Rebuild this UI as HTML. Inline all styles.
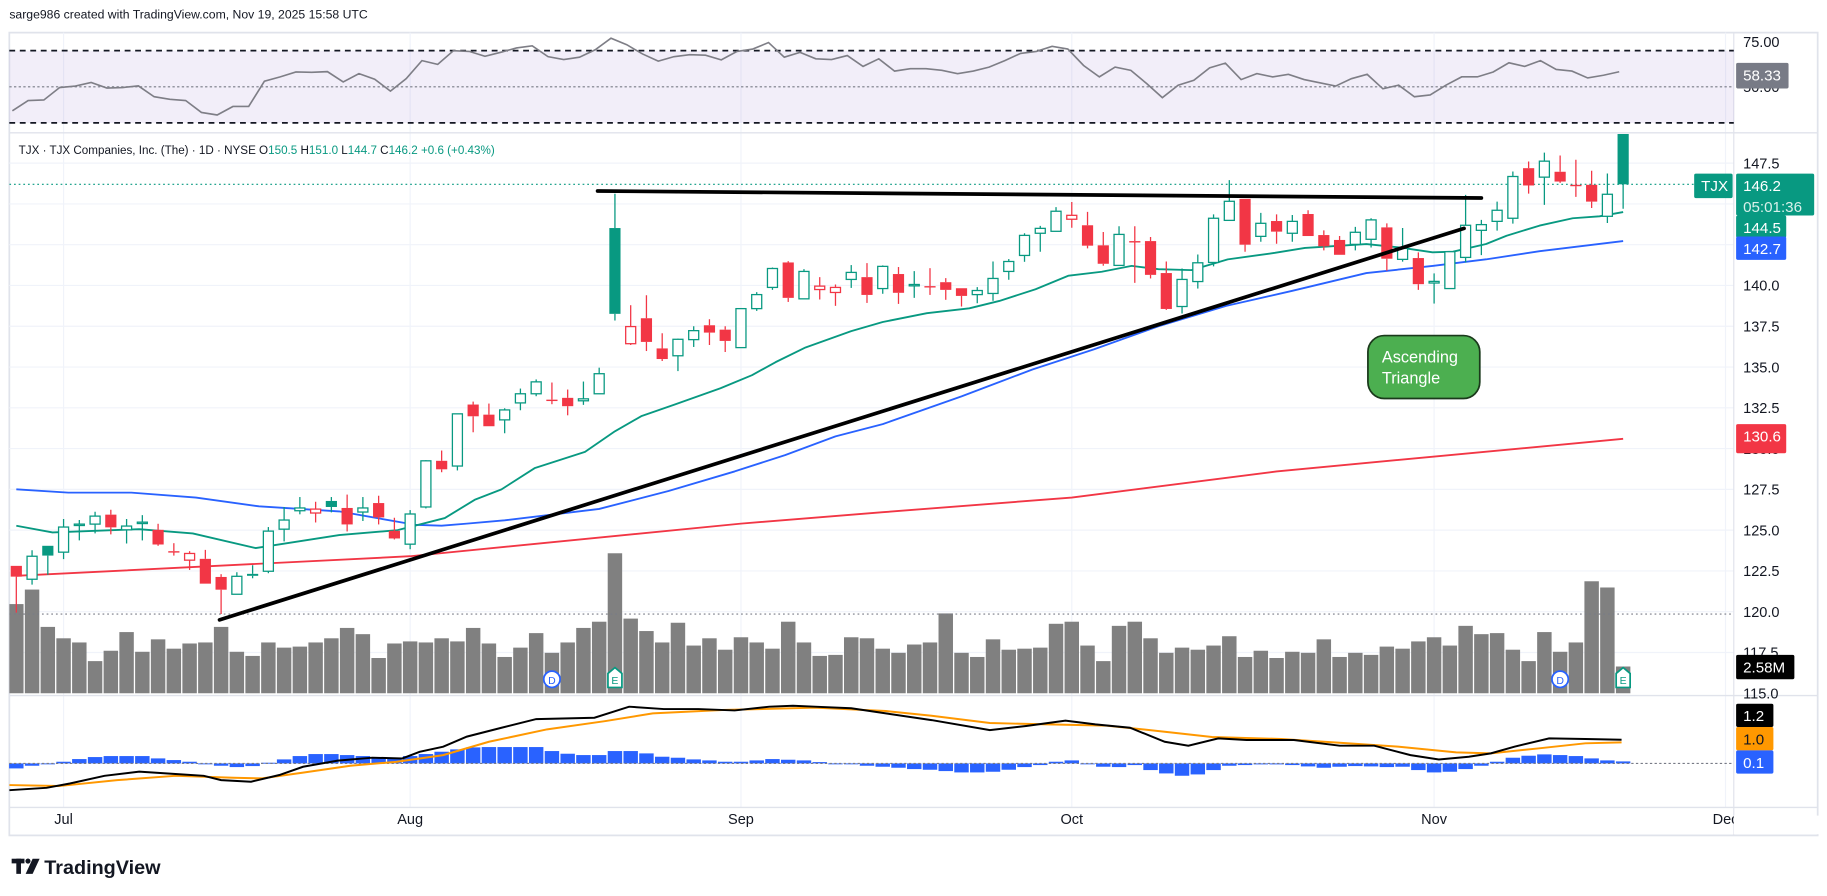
<!DOCTYPE html>
<html><head><meta charset="utf-8"><style>
html,body{margin:0;padding:0;background:#fff;}
svg{display:block;font-family:"Liberation Sans",sans-serif;}
</style></head><body>
<svg id="chart" xmlns="http://www.w3.org/2000/svg" width="1827" height="896" viewBox="0 0 1568 769" preserveAspectRatio="none">
<rect x="0" y="0" width="1568" height="769" fill="#fff"/>
<text x="8" y="16" font-size="10.5" fill="#131722">sarge986 created with TradingView.com, Nov 19, 2025 15:58 UTC</text>
<rect x="8" y="28" width="1552" height="689" fill="none" stroke="#e0e3eb" stroke-width="1.5"/>
<g id="grid"></g>
<g id="rsi"></g>
<g id="price"></g>
<g id="macd"></g>
<g id="axes"></g>
<text x="16" y="132" font-size="10" fill="#131722">TJX · TJX Companies, Inc. (The) · 1D · NYSE  O<tspan fill="#089981">150.5</tspan>  H<tspan fill="#089981">151.0</tspan>  L<tspan fill="#089981">144.7</tspan>  C<tspan fill="#089981">146.2</tspan>  <tspan fill="#089981">+0.6 (+0.43%)</tspan></text>
<g>
<rect x="10" y="737" width="11" height="4" fill="#131722"/><rect x="14" y="737" width="4" height="13" fill="#131722"/>
<circle cx="24" cy="739" r="2.2" fill="#131722"/><polygon points="28,737 34,737 28,750 22,750" fill="#131722"/>
<text x="38" y="750" font-size="17" font-weight="bold" fill="#131722">TradingView</text>
</g>
</svg>
<script>
// ---------- data ----------
const dates = ['Jun26','Jun27','Jun30'];
const monthLabels = ['Jul','Aug','Sep','Oct','Nov','Dec'];
const monthBarIdx = [3,25,46,67,90,108.5];
const open =  [122.81,121.99,124.04,123.65,125.31,125.37,125.95,125.02,125.43,125.02,123.71,123.16,123.24,122.13,121.07,122.32,122.48,125.06,126.19,126.05,126.79,126.36,126.11,126.66,124.96,124.14,126.42,129.25,128.93,132.70,132.08,131.76,132.80,133.36,133.00,133.11,132.93,133.36,143.52,136.43,137.99,136.14,135.69,136.68,137.56,137.29,136.19,138.58,139.88,141.41,139.18,139.75,139.57,140.37,140.51,139.81,140.70,140.04,139.96,140.20,139.83,139.44,139.51,140.86,141.84,143.20,143.32,144.06,143.69,142.46,141.23,142.72,142.72,140.76,138.71,140.24,141.41,143.99,145.31,143.01,143.95,143.20,144.38,143.09,142.79,142.52,142.83,143.56,141.60,141.68,140.15,139.81,141.72,143.38,143.93,144.12,147.19,146.64,146.97,146.17,146.17,144.24,150.5];
const high =  [122.81,123.77,124.04,125.68,125.62,126.13,126.25,125.68,125.92,125.39,124.20,123.71,123.79,122.30,122.42,122.85,125.19,126.42,127.03,126.74,127.03,127.18,127.03,127.11,125.76,126.23,129.29,129.88,132.13,132.88,132.76,132.47,133.68,134.24,134.05,133.62,134.11,134.96,145.62,138.79,139.40,137.07,136.74,137.50,137.93,137.50,138.58,139.59,141.10,141.49,141.00,140.51,140.06,141.25,141.37,141.23,141.13,140.88,141.06,140.45,139.83,139.90,141.47,141.62,143.20,143.65,144.80,145.12,144.51,143.28,143.63,143.63,142.97,141.47,141.04,141.90,144.36,146.46,145.31,144.45,144.36,144.32,144.61,143.38,143.03,143.59,144.12,143.81,143.52,142.03,140.74,142.07,145.55,144.02,145.14,146.99,147.60,148.14,147.97,147.71,147.03,146.86,151.0];
const low =   [119.94,121.66,122.26,123.22,124.37,124.80,124.74,124.18,124.37,124.04,123.44,122.56,121.72,119.86,121.07,122.05,122.36,124.31,125.97,125.47,126.09,124.92,125.56,125.35,124.43,123.83,126.33,128.55,128.66,131.00,131.37,130.94,132.35,133.21,132.72,132.04,132.68,133.36,137.85,136.35,135.98,135.37,134.75,136.23,136.35,135.92,136.19,138.44,139.73,138.99,139.18,139.14,138.75,139.85,138.93,139.49,138.87,139.24,139.42,139.12,138.71,138.91,139.06,140.35,141.45,142.07,143.32,143.54,142.27,141.21,141.23,140.16,140.43,138.50,138.28,139.81,141.17,143.99,142.07,142.68,142.56,142.68,143.03,142.15,141.88,142.15,142.33,140.90,141.46,139.73,138.89,139.81,141.41,141.86,143.36,143.79,145.63,144.94,146.29,145.43,144.75,143.83,144.7];
const close = [122.15,123.40,123.44,125.19,125.37,125.86,125.17,125.25,125.49,124.12,123.69,123.57,121.72,121.35,122.17,122.20,124.94,125.62,126.36,126.29,126.42,125.35,126.36,125.78,124.49,125.99,129.25,128.73,132.13,131.98,131.37,132.37,133.36,134.09,132.93,132.60,133.05,134.59,138.26,137.48,136.54,135.49,136.70,137.23,137.11,136.60,138.58,139.44,141.04,139.24,140.86,139.96,139.88,140.80,139.42,141.17,139.55,140.06,139.94,139.73,139.36,139.69,140.43,141.47,143.07,143.50,144.55,144.30,142.44,141.33,143.13,142.66,140.65,138.56,140.37,141.39,144.12,145.16,142.50,143.81,143.30,143.93,143.03,142.40,141.88,143.26,144.02,141.64,142.27,140.08,140.25,142.07,143.69,143.73,144.61,146.68,146.13,147.62,146.37,146.09,145.14,145.59,146.2];
const volume = [8.6,10.0,6.4,5.3,4.9,3.1,4.1,5.9,4.0,5.2,4.3,4.8,4.9,6.4,4.0,3.6,4.9,4.4,4.5,4.9,5.3,6.3,5.7,3.4,4.8,5.0,4.9,5.3,5.0,6.3,4.8,3.5,4.4,5.8,3.9,4.9,6.3,6.9,13.5,7.2,6.0,4.9,6.8,4.6,5.3,4.2,5.4,4.9,4.3,6.9,4.9,3.6,3.7,5.4,5.3,4.3,3.9,4.7,4.9,7.7,3.9,3.5,5.2,4.2,4.3,4.4,6.7,6.9,4.6,3.1,6.5,6.9,5.3,3.9,4.4,4.2,4.6,5.5,3.5,4.1,3.4,4.0,3.9,5.2,3.5,3.9,3.7,4.5,4.3,5.0,5.4,4.6,6.5,5.7,5.8,4.2,3.1,5.9,4.0,4.9,10.8,10.2,2.58];
const ema20Idx = [0,2.3,7.8,11.2,15.2,20.5,24.2,27.2,29.1,30.8,32.9,36.1,38,39.7,41.8,44.7,46.7,48.2,50.1,53,55,57.8,60.5,62.4,64.7,66.8,68.9,70.8,72.5,74.6,76.9,79.9,81.8,85.7,87.8,89.9,91.2,93.3,94.6,96.7,98.8,100.5,102];
const ema20Val = [125.27,124.86,125.06,124.8,123.9,124.7,125.0,125.74,126.86,127.5,128.8,129.8,131.06,132.0,132.7,133.7,134.5,135.3,136.2,137.2,137.76,138.3,138.6,139.05,139.77,140.6,140.84,141.2,141.0,140.94,141.6,142.0,142.3,142.54,142.33,142.03,142.07,142.54,143.05,143.67,144.12,144.24,144.5];
const sma50Idx = [0,3.3,7.3,11.4,15.4,20.5,25.3,27,28.6,31,37,41.4,45.6,48.8,52,55,60,64.5,68.4,72.5,76.8,81,85.7,89.9,93.3,96.7,102];
const sma50Val = [127.5,127.3,127.3,127.0,126.46,126.15,125.33,125.27,125.4,125.6,126.3,127.4,128.6,129.6,130.75,131.5,133.2,134.85,136.08,137.5,138.75,139.67,140.76,141.2,141.6,142.1,142.72];
const sma200Idx = [0,25,46,55,67,80,102];
const sma200Val = [122.2,123.4,125.4,126.1,127.0,128.6,130.6];
const rsiVal = [36.7,42.4,42.7,49.6,50.4,52.4,49.3,49.6,50.5,44.5,43.1,42.4,35.8,34.4,39.1,39.1,53.1,55.5,58.2,58.0,58.4,52.7,57.3,54.2,47.6,54.5,64.5,62.4,70.0,69.6,66.9,69.1,71.5,72.7,66.7,65.1,66.4,70.5,76.9,73.3,68.2,64.2,66.7,67.8,67.5,64.9,69.6,70.9,74.5,66.4,69.1,65.5,65.1,67.3,61.3,65.5,58.7,60.0,60.0,59.1,57.3,58.7,60.9,64.5,68.5,69.6,72.4,70.9,61.8,55.5,60.9,59.1,51.8,44.0,50.9,53.6,60.5,63.1,54.0,57.3,55.5,56.9,54.0,52.2,50.4,54.5,56.9,48.9,50.9,44.5,45.5,50.9,55.5,55.5,58.2,63.3,61.3,64.5,59.6,58.7,54.9,56.4,58.33];
const macdIdx = [-0.44,1.92,3.4,5.6,7.8,10.1,11.9,13.0,14.9,16.7,18.2,20.4,22.6,24.5,25.6,27.1,28.6,30.8,33.0,36.7,38.9,41.1,43.3,45.6,47.8,49.3,50.7,53.0,55.2,58.1,61.8,64.1,66.6,68.5,70.7,72.9,74.4,76.3,78.1,81.1,84.0,86.2,88.5,90.3,92.2,93.6,95.1,97.3,99.6,101.9];
const macdVal = [-1.36,-1.24,-1.02,-0.63,-0.42,-0.54,-0.63,-0.85,-0.93,-0.59,-0.17,0.14,0.29,0.25,0.59,0.85,1.36,1.81,2.25,2.32,2.88,2.76,2.76,2.69,2.88,2.93,2.88,2.80,2.54,2.20,1.69,1.90,2.17,1.98,1.81,1.10,0.90,1.27,1.19,1.19,0.90,0.90,0.42,0.20,0.34,0.51,0.85,1.27,1.24,1.20];
const signalIdx = [-0.44,2.7,6.4,10.1,13.8,15.6,18.2,21.2,24.1,27.1,30.0,33.7,37.4,40.4,44.8,50.7,55.2,58.1,61.8,65.5,69.2,72.9,75.9,80.3,84.0,87.7,91.4,93.6,96.6,99.6,101.9];
const signalVal = [-1.10,-1.15,-0.85,-0.63,-0.73,-0.76,-0.47,-0.12,0.08,0.42,1.10,1.73,2.15,2.54,2.71,2.83,2.66,2.42,2.05,1.98,1.92,1.61,1.34,1.24,1.05,0.85,0.56,0.51,0.76,1.02,1.07];
const histZy = [220,212,206,200,192,186,183,183,183,190,195,200,207,212,216,213,203,193,183,177,177,180,183,186,190,183,177,170,163,157,156,156,156,156,168,176,180,180,168,168,175,185,188,193,196,200,200,196,192,194,196,201,205,207,212,215,218,222,224,228,232,232,230,224,216,210,200,196,207,215,216,210,225,235,242,238,225,212,210,208,208,210,214,218,215,213,214,216,215,225,232,230,222,212,200,188,182,178,180,183,190,196,199];
const histVal = histZy.map(z => (205 - z) / 59);
const priceTicks = [147.5,140.0,137.5,135.0,132.5,130.0,127.5,125.0,122.5,120.0,117.5,115.0];
const gridPrices = [147.5,145,142.5,140,137.5,135,132.5,130,127.5,125,122.5,120,117.5];
const trendIdx = [12.9,91.9]; const trendVal = [119.5,143.5];
const resistIdx = [36.9,93.0]; const resistVal = [145.79,145.36];
const dividendIdx = [34,98]; const earningsIdx = [38,102];

// ---------- scales ----------
const NS = 'http://www.w3.org/2000/svg';
const X = i => 14 + i * 13.52;
const PY = p => 140 + (147.5 - p) * 14;
const VY = v => 595 - v * 8.9;
const RY = r => 74.5 - (r - 50) * 1.55;
const MY = m => 655.2 - m * 16.9;
const GREEN = '#089981', RED = '#f23645';
function mk(tag, attrs, parent) { const e = document.createElementNS(NS, tag); for (const k in attrs) e.setAttribute(k, attrs[k]); parent.appendChild(e); return e; }
const grid = document.getElementById('grid'), rsiG = document.getElementById('rsi'), priceG = document.getElementById('price'), macdG = document.getElementById('macd'), axes = document.getElementById('axes');
const svg = document.getElementById('chart');
const defs = mk('defs', {}, svg);
const cp = mk('clipPath', {id: 'pclip'}, defs); mk('rect', {x: 8, y: 115, width: 1480, height: 481}, cp);
priceG.setAttribute('clip-path', 'url(#pclip)');

// grid
gridPrices.forEach(p => { const l = mk('line', {x1: 8, x2: 1488, y1: PY(p), y2: PY(p), stroke: '#f0f3fa', 'stroke-width': 1}, grid);
   });
monthBarIdx.forEach(i => { const l = mk('line', {x1: X(i), x2: X(i), y1: 28, y2: 693, stroke: '#f0f3fa', 'stroke-width': 1}, grid);
   });
[114, 597, 693].forEach(y => { const l = mk('line', {x1: 8, x2: 1560, y1: y, y2: y, stroke: '#e0e3eb', 'stroke-width': 1.2}, grid);
   });
{ const l = mk('line', {x1: 1488, x2: 1488, y1: 28, y2: 717, stroke: '#e0e3eb', 'stroke-width': 1}, grid);   }

// RSI
{ const b = mk('rect', {x: 8, y: RY(70), width: 1480, height: RY(30) - RY(70), fill: '#7e57c2', 'fill-opacity': 0.1}, rsiG);   }
[70, 30].forEach(v => { const l = mk('line', {x1: 8, x2: 1488, y1: RY(v), y2: RY(v), stroke: '#131722', 'stroke-width': 1.5, 'stroke-dasharray': '5,4'}, rsiG);   });
{ const l = mk('line', {x1: 8, x2: 1488, y1: RY(50), y2: RY(50), stroke: '#787b86', 'stroke-width': 1, 'stroke-dasharray': '2,2'}, rsiG);   }
{ const pl = mk('polyline', {points: rsiVal.map((v, i) => X(i - 0.25) + ',' + RY(v)).join(' '), fill: 'none', stroke: '#7e7e86', 'stroke-width': 1.4}, rsiG);   }

// volume
volume.forEach((v, i) => { const r = mk('rect', {x: X(i) - 6.2, y: VY(v), width: 12.4, height: 595 - VY(v), fill: '#808080'}, priceG);
   });
{ const l = mk('line', {x1: 8, x2: 1488, y1: 527, y2: 527, stroke: '#787b86', 'stroke-width': 1, 'stroke-dasharray': '1.5,2.5'}, priceG);   }
{ const l = mk('line', {x1: 8, x2: 1488, y1: PY(146.2), y2: PY(146.2), stroke: GREEN, 'stroke-width': 1, 'stroke-dasharray': '1.5,2.5'}, priceG);   }

// MAs
function maLine(idx, val, color, name) { const pl = mk('polyline', {points: idx.map((i, k) => X(i) + ',' + PY(val[k])).join(' '), fill: 'none', stroke: color, 'stroke-width': 1.6, 'stroke-linejoin': 'round'}, priceG);
   }
maLine(sma200Idx, sma200Val, '#f23645', 'sma-200-line');
maLine(sma50Idx, sma50Val, '#2962ff', 'sma-50-line');
maLine(ema20Idx, ema20Val, '#089981', 'ema-20-line');

// candles
open.forEach((o, i) => {
 const c = close[i], up = c >= o, prev = i > 0 ? close[i - 1] : o, col = c >= prev ? GREEN : RED;
 const g = mk('g', {}, priceG);
  
 const top = PY(Math.max(o, c)), bot = PY(Math.min(o, c));
 mk('line', {x1: X(i), x2: X(i), y1: PY(high[i]), y2: top, stroke: col, 'stroke-width': 1.1}, g);
 mk('line', {x1: X(i), x2: X(i), y1: bot, y2: PY(low[i]), stroke: col, 'stroke-width': 1.1}, g);
 const h = Math.max(bot - top, 1.2);
 if (up) mk('rect', {x: X(i) - 4.3, y: top, width: 8.6, height: h, fill: '#fff', stroke: col, 'stroke-width': 1.1}, g);
 else mk('rect', {x: X(i) - 4.8, y: top, width: 9.6, height: h, fill: col}, g);
});

// trend lines
{ const l = mk('line', {x1: X(trendIdx[0]), y1: PY(trendVal[0]), x2: X(trendIdx[1]), y2: PY(trendVal[1]), stroke: '#000', 'stroke-width': 3.2, 'stroke-linecap': 'round'}, priceG);   }
{ const l = mk('line', {x1: X(resistIdx[0]), y1: PY(resistVal[0]), x2: X(resistIdx[1]), y2: PY(resistVal[1]), stroke: '#000', 'stroke-width': 3.2, 'stroke-linecap': 'round'}, priceG);   }
{ const g = mk('g', {}, priceG);  
 mk('rect', {x: 1174, y: 288, width: 96, height: 54, rx: 14, fill: '#4caf50', stroke: '#1b3a1c', 'stroke-width': 1.5}, g);
 const t1 = mk('text', {x: 1186, y: 311, 'font-size': 14, fill: '#fff'}, g); t1.textContent = 'Ascending';
 const t2 = mk('text', {x: 1186, y: 329, 'font-size': 14, fill: '#fff'}, g); t2.textContent = 'Triangle'; }

// D / E markers
function marker(i, letter, color, name) { const g = mk('g', {}, priceG);  
 if (letter === 'D') mk('circle', {cx: X(i), cy: 583, r: 7, fill: '#fff', stroke: color, 'stroke-width': 1.5}, g);
 else mk('polygon', {points: [X(i) - 6, 590, X(i) - 6, 578, X(i), 573, X(i) + 6, 578, X(i) + 6, 590].join(','), fill: '#fff', stroke: color, 'stroke-width': 1.5}, g);
 const t = mk('text', {x: X(i), y: 587, 'font-size': 9, fill: color, 'text-anchor': 'middle'}, g); t.textContent = letter; }
dividendIdx.forEach(i => marker(i, 'D', '#2962ff', 'dividend-marker'));
earningsIdx.forEach(i => marker(i, 'E', '#089981', 'earnings-marker'));

// MACD
histVal.forEach((v, i) => { const y0 = MY(0), y1 = MY(v); const r = mk('rect', {x: X(i) - 6.2, y: Math.min(y0, y1), width: 12.4, height: Math.max(Math.abs(y1 - y0), 0.8), fill: '#2962ff'}, macdG);
   });
{ const l = mk('line', {x1: 8, x2: 1488, y1: MY(0), y2: MY(0), stroke: '#787b86', 'stroke-width': 1, 'stroke-dasharray': '2,2'}, macdG);   }
{ const pl = mk('polyline', {points: signalIdx.map((i, k) => X(i) + ',' + MY(signalVal[k])).join(' '), fill: 'none', stroke: '#ff9800', 'stroke-width': 1.7}, macdG);   }
{ const pl = mk('polyline', {points: macdIdx.map((i, k) => X(i) + ',' + MY(macdVal[k])).join(' '), fill: 'none', stroke: '#000', 'stroke-width': 1.7}, macdG);   }

// axes labels
function label(x, y, txt, name, opts) { const t = mk('text', Object.assign({x: x, y: y, 'font-size': 12.5, fill: '#131722'}, opts || {}), axes); t.textContent = txt;   return t; }
priceTicks.forEach(p => label(1496, PY(p) + 4.5, p.toFixed(1), 'price-tick-label'));
label(1496, RY(75) + 4.5, '75.00', 'rsi-tick-label');
label(1496, RY(50) + 4.5, '50.00', 'rsi-tick-label');
monthLabels.forEach((m, k) => label(X(monthBarIdx[k]), 707, m, 'x-axis-month-label', {'text-anchor': 'middle'}));
{ const r = mk('rect', {x: 1488, y: 700, width: 80, height: 16, fill: '#fff'}, axes);   }

function box(x, y, w, h, fill, lines, name, fc) { const g = mk('g', {}, axes);  
 mk('rect', {x: x, y: y, width: w, height: h, fill: fill, rx: 1.5}, g);
 lines.forEach((s, k) => { const t = mk('text', {x: x + 6, y: y + 15 + k * 18, 'font-size': 13, fill: (fc && fc[k]) || '#fff'}, g); t.textContent = s; }); }
box(1490, 54, 45, 22, '#787b86', ['58.33'], 'rsi-value-label');
box(1490, 364, 43, 25, '#f23645', ['130.6'], 'sma200-value-label');
box(1490, 185, 43, 19, '#089981', ['144.5'], 'ema20-value-label');
box(1490, 203, 43, 20, '#2962ff', ['142.7'], 'sma50-value-label');
box(1490, 149, 67, 36, '#089981', ['146.2', '05:01:36'], 'last-price-label', ['#fff', '#d8f0ea']);
box(1454, 149, 33, 21, '#089981', ['TJX'], 'symbol-label');
box(1490, 562, 50, 21, '#000', ['2.58M'], 'volume-value-label');
box(1490, 604, 32, 20, '#000', ['1.2'], 'macd-value-label');
box(1490, 624, 32, 20, '#ff9800', ['1.0'], 'signal-value-label', ['#131722']);
box(1490, 644, 32, 20, '#2962ff', ['0.1'], 'histogram-value-label');
</script>
</body></html>
